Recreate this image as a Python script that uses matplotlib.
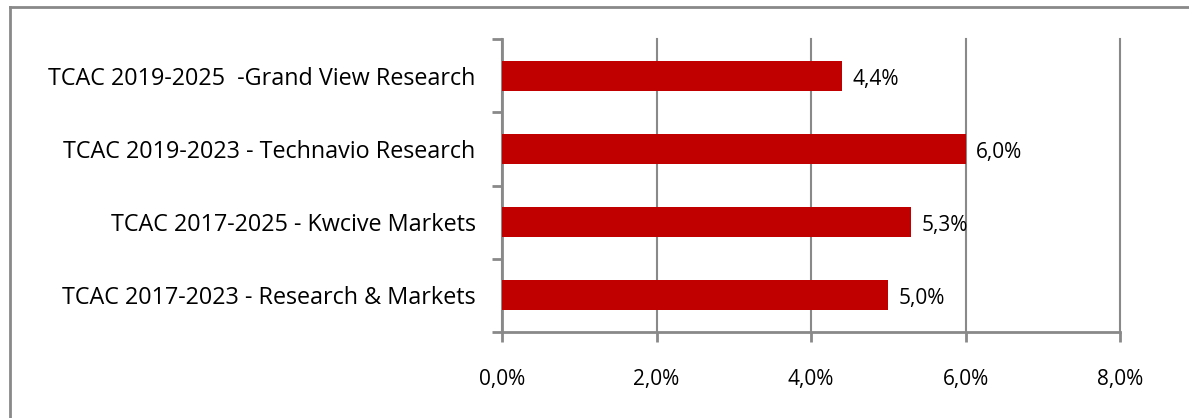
import matplotlib
matplotlib.use("Agg")
import matplotlib.pyplot as plt
from matplotlib.lines import Line2D
from matplotlib.ticker import FuncFormatter

categories = [
    "TCAC 2017-2023 - Research & Markets",
    "TCAC 2017-2025 - Kwcive Markets",
    "TCAC 2019-2023 - Technavio Research",
    "TCAC 2019-2025  -Grand View Research",
]
values = [5.0, 5.3, 6.0, 4.4]
xticks = [0, 2, 4, 6, 8]

plt.rcParams['font.family'] = ['Open Sans', 'DejaVu Sans']
W, H = 1189, 418
fig = plt.figure(figsize=(W / 100, H / 100), dpi=100)
ax = fig.add_axes([502 / W, 1 - 332 / H, (1120 - 502) / W, (332 - 39) / H])

grey = '#898989'
ypos = list(range(len(categories)))
ax.barh(ypos, values, height=0.41, color='#C00000', zorder=3)
ax.set_ylim(-0.5, len(categories) - 0.5)
ax.set_xlim(0, 8)
ax.set_xticks(xticks)
ax.xaxis.set_major_formatter(FuncFormatter(lambda v, p: f"{v:.1f}%".replace('.', ',')))
ax.set_yticks(ypos)
ax.set_yticklabels(categories)
ax.set_yticks([y - 0.5 for y in range(len(categories) + 1)], minor=True)
ax.tick_params(axis='y', which='major', length=0, pad=19, labelsize=16.8, labelcolor='black')
ax.tick_params(axis='y', which='minor', length=7, width=2, color=grey)
ax.tick_params(axis='x', length=7, width=2, color=grey, pad=20, labelsize=15)
ax.grid(axis='x', color=grey, linewidth=1.5, zorder=0)
for gl in ax.get_xgridlines():
    gl.set_clip_on(False)
for s in ['top', 'right']:
    ax.spines[s].set_visible(False)
for s in ['left', 'bottom']:
    ax.spines[s].set_color(grey)
    ax.spines[s].set_linewidth(2)
ax.set_axisbelow(True)

for y, v in zip(ypos, values):
    ax.annotate(f"{v:.1f}%".replace('.', ','), (v, y), xytext=(7.5, -2.5),
                textcoords='offset points', ha='left', va='center', fontsize=15)

# outer frame (partially visible)
fig.add_artist(Line2D([10 / W, 1], [1 - 7 / H, 1 - 7 / H], transform=fig.transFigure,
                      color=grey, linewidth=2))
fig.add_artist(Line2D([10 / W, 10 / W], [0, 1 - 7 / H], transform=fig.transFigure,
                      color=grey, linewidth=2))

fig.savefig('out.png', dpi=100)
